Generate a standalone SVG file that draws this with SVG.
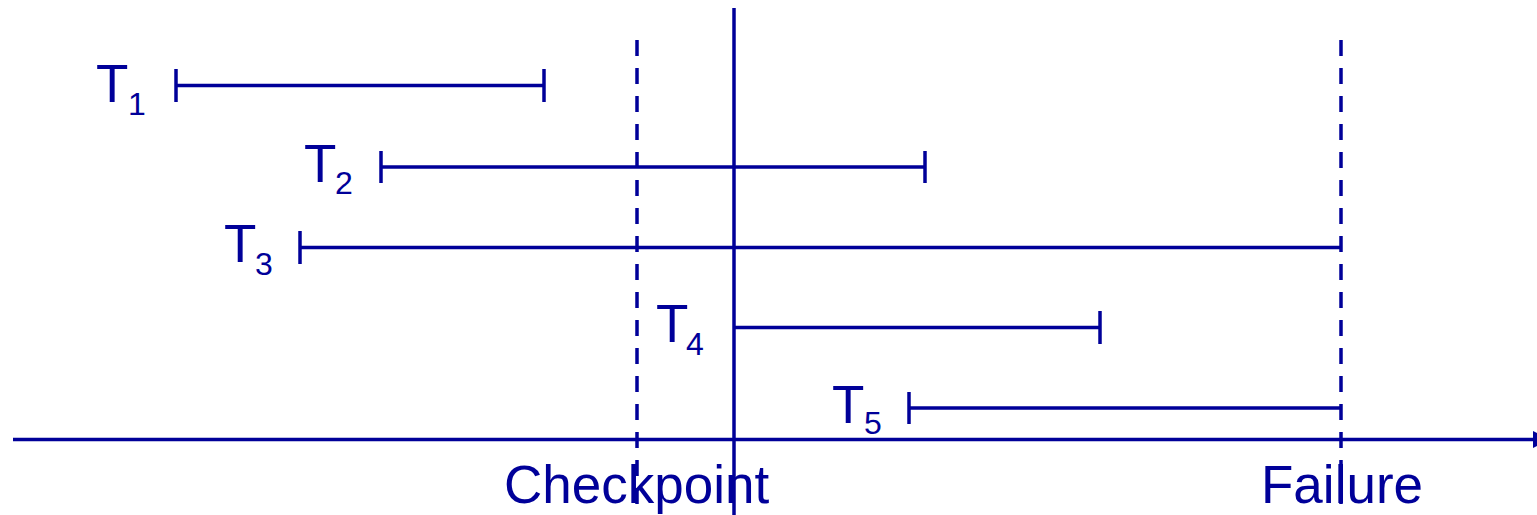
<svg xmlns="http://www.w3.org/2000/svg" width="1537" height="515" viewBox="0 0 1537 515">
<style>
.ln{stroke:#000099;stroke-width:3.5;fill:none}
.dash{stroke:#000099;stroke-width:3.5;fill:none;stroke-dasharray:16 12}
.lbl{font-family:"Liberation Sans",Arial,sans-serif;font-size:53px;fill:#000099}
.sub{font-family:"Liberation Sans",Arial,sans-serif;font-size:32px;fill:#000099}
</style>
<rect width="1537" height="515" fill="#ffffff"/>
<g id="connectors">
<line id="axis" class="ln" x1="13" y1="439.5" x2="1535" y2="439.5"/>
<polygon points="1533,431 1550,439.5 1533,448" fill="#000099"/>
<line id="now" class="ln" x1="734" y1="8" x2="734" y2="515"/>
<line id="checkpoint-line" class="dash" x1="637" y1="40" x2="637" y2="515"/>
<line id="failure-line" class="dash" x1="1341" y1="40" x2="1341" y2="515"/>
</g>
<g id="T1">
<text class="lbl" x="96" y="102">T</text><text class="sub" x="128" y="115">1</text>
<line class="ln" x1="176" y1="85.5" x2="544" y2="85.5"/>
<line class="ln" x1="176" y1="69" x2="176" y2="102"/>
<line class="ln" x1="544" y1="69" x2="544" y2="102"/>
</g>
<g id="T2">
<text class="lbl" x="304" y="182">T</text><text class="sub" x="335" y="194">2</text>
<line class="ln" x1="381" y1="167" x2="925" y2="167"/>
<line class="ln" x1="381" y1="151" x2="381" y2="183"/>
<line class="ln" x1="925" y1="151" x2="925" y2="183"/>
</g>
<g id="T3">
<text class="lbl" x="224" y="262">T</text><text class="sub" x="255" y="275">3</text>
<line class="ln" x1="300" y1="247.5" x2="1341" y2="247.5"/>
<line class="ln" x1="300" y1="231" x2="300" y2="264"/>
</g>
<g id="T4">
<text class="lbl" x="656" y="342">T</text><text class="sub" x="686" y="355">4</text>
<line class="ln" x1="734" y1="327.5" x2="1100" y2="327.5"/>
<line class="ln" x1="1100" y1="311" x2="1100" y2="344"/>
</g>
<g id="T5">
<text class="lbl" x="832" y="423">T</text><text class="sub" x="864" y="434">5</text>
<line class="ln" x1="909" y1="408" x2="1341" y2="408"/>
<line class="ln" x1="909" y1="392" x2="909" y2="424"/>
</g>
<g id="labels">
<text class="lbl" x="504" y="503">Checkpoint</text>
<text class="lbl" x="1261" y="503">Failure</text>
</g>
</svg>
